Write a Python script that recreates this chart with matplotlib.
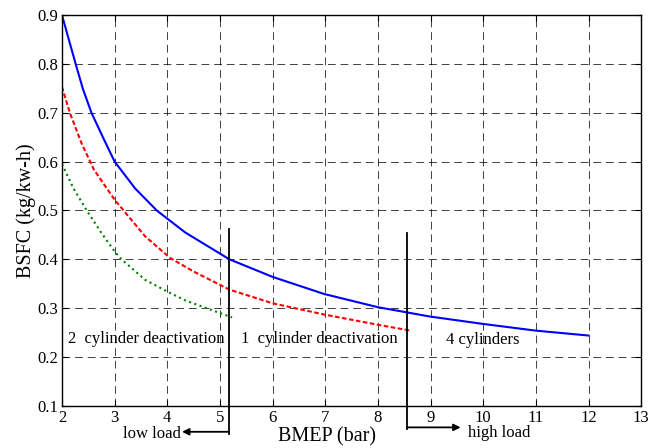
import matplotlib
matplotlib.use('Agg')
import matplotlib.pyplot as plt

# BSFC curves
bmep_4cyl = [2, 2.13, 2.26, 2.4, 2.56, 2.79, 3.0, 3.39, 3.8, 4.34, 5.18, 6.0, 6.98, 8.0, 8.57, 8.98, 9.98, 11.0, 12.0]
bsfc_4cyl = [0.9, 0.85, 0.8, 0.748, 0.7, 0.647, 0.6, 0.545, 0.5, 0.455, 0.4, 0.364, 0.329, 0.302, 0.291, 0.283, 0.268, 0.254, 0.244]

bmep_1deact = [2, 2.15, 2.37, 2.61, 3.0, 3.17, 3.58, 4.05, 4.5, 5.18, 6.0, 6.98, 8.0, 8.62]
bsfc_1deact = [0.753, 0.7, 0.638, 0.583, 0.522, 0.5, 0.447, 0.403, 0.375, 0.338, 0.31, 0.287, 0.266, 0.254]

bmep_2deact = [2, 2.22, 2.47, 2.75, 3.0, 3.13, 3.58, 4.0, 4.34, 5.0, 5.23]
bsfc_2deact = [0.595, 0.545, 0.5, 0.454, 0.416, 0.4, 0.358, 0.334, 0.316, 0.29, 0.281]

xticks = list(range(2, 14))
yticks = [0.1, 0.2, 0.3, 0.4, 0.5, 0.6, 0.7, 0.8, 0.9]

plt.rcParams['font.family'] = ['Liberation Serif', 'DejaVu Serif']
plt.rcParams['font.size'] = 12

fig = plt.figure(figsize=(6.59, 4.48), dpi=100)
ax = fig.add_axes([0.094, 0.094, 0.879, 0.8725])

ax.plot(bmep_4cyl, bsfc_4cyl, color='#0000ff', lw=1.5, ls='-')
ax.plot(bmep_1deact, bsfc_1deact, color='#ff0000', lw=1.5, ls='--', dashes=(2.2, 1.2))
ax.plot(bmep_2deact, bsfc_2deact, color='#008000', lw=1.5, ls=':')

ax.set_xlim(2, 13)
ax.set_ylim(0.1, 0.9)
ax.set_xticks(xticks)
ax.set_yticks(yticks)
ax.set_xticklabels([str(t) for t in xticks])
ax.set_yticklabels(['%.1f' % t for t in yticks])
ax.tick_params(direction='in', top=True, right=True, length=4, pad=3)
ax.grid(True, color='black', ls=(0, (8, 5)), lw=0.7, alpha=0.75)
for s in ax.spines.values():
    s.set_linewidth(1.0)

ax.set_xlabel('BMEP (bar)', fontsize=14.5, va='center')
ax.xaxis.set_label_coords(0.458, -0.079)
ax.set_ylabel('BSFC (kg/kw-h)', fontsize=14.5, va='center')
ax.yaxis.set_label_coords(-0.062, 0.50)

# region boundaries, running below the axes
ax.plot([5.17, 5.17], [0.462, 0.043], color='black', lw=1.3, clip_on=False)
ax.plot([8.56, 8.56], [0.454, 0.053], color='black', lw=1.3, clip_on=False)

ax.annotate('', xy=(4.28, 0.047), xytext=(5.17, 0.047), xycoords='data',
            arrowprops=dict(arrowstyle='-|>', color='black', lw=1.3,
                            shrinkA=0, shrinkB=0, mutation_scale=10),
            annotation_clip=False)
ax.annotate('', xy=(9.57, 0.056), xytext=(8.56, 0.056), xycoords='data',
            arrowprops=dict(arrowstyle='-|>', color='black', lw=1.3,
                            shrinkA=0, shrinkB=0, mutation_scale=10),
            annotation_clip=False)
ax.text(4.26, 0.042, 'low load', ha='right', va='center', fontsize=12)
ax.text(9.72, 0.044, 'high load', ha='left', va='center', fontsize=12)

ax.text(2.11, 0.237, '2  cylinder deactivation', ha='left', va='center', fontsize=12)
ax.text(5.40, 0.237, '1  cylinder deactivation', ha='left', va='center', fontsize=12)
ax.text(9.30, 0.235, '4 cylinders', ha='left', va='center', fontsize=12)

fig.savefig('out.png', dpi=100)
